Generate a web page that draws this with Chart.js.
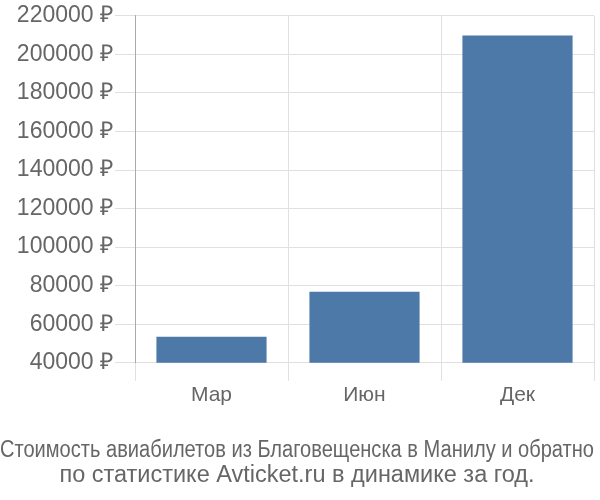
<!DOCTYPE html>
<html>
<head>
<meta charset="utf-8">
<script src="https://cdn.jsdelivr.net/npm/chart.js@4/dist/chart.umd.min.js"></script>
<style>
html,body{margin:0;padding:0;background:#fff;}
#wrap{width:600px;height:500px;}
</style>
</head>
<body>
<div id="wrap"><canvas id="priceChart" width="600" height="500"></canvas></div>
<script>
const months=["Мар","Июн","Дек"];
const prices=[53500,76800,209800];
const yTicks={min:40000,max:220000,step:20000};
const titleLines=["Стоимость авиабилетов из Благовещенска в Манилу и обратно","по статистике Avticket.ru в динамике за год."];

const ctx=document.getElementById("priceChart").getContext("2d");
const chart=new Chart(ctx,{
    type:"bar",
    data:{
        labels:months,
        datasets:[{
            data:prices,
            backgroundColor:"#4d79a8",
            borderWidth:0
        }]
    },
    options:{
        responsive:false,
        animation:false,
        layout:{padding:{left:0,right:6,top:4,bottom:0}},
        plugins:{
            legend:{display:false},
            tooltip:{enabled:false},
            title:{
                display:true,
                position:"bottom",
                text:titleLines,
                color:"#666",
                font:{family:"'Liberation Sans'",size:23.5,weight:"normal",lineHeight:1.064},
                padding:{top:28,bottom:12}
            }
        },
        scales:{
            x:{
                grid:{color:"#e0e0e0",tickLength:18,offset:true},
                border:{color:"#e0e0e0"},
                ticks:{color:"#666",font:{family:"'Liberation Sans'",size:21},padding:2}
            },
            y:{
                min:yTicks.min,
                max:yTicks.max,
                afterFit:function(scale){
                    scale.width=135;
                },
                grid:{color:"#e0e0e0",tickLength:20},
                border:{color:"#aaa"},
                ticks:{
                    stepSize:yTicks.step,
                    color:"#666",
                    font:{family:"'Liberation Sans'",size:23},
                    padding:2,
                    callback:v=>v+" ₽"
                }
            }
        }
    }
});
</script>
</body>
</html>
